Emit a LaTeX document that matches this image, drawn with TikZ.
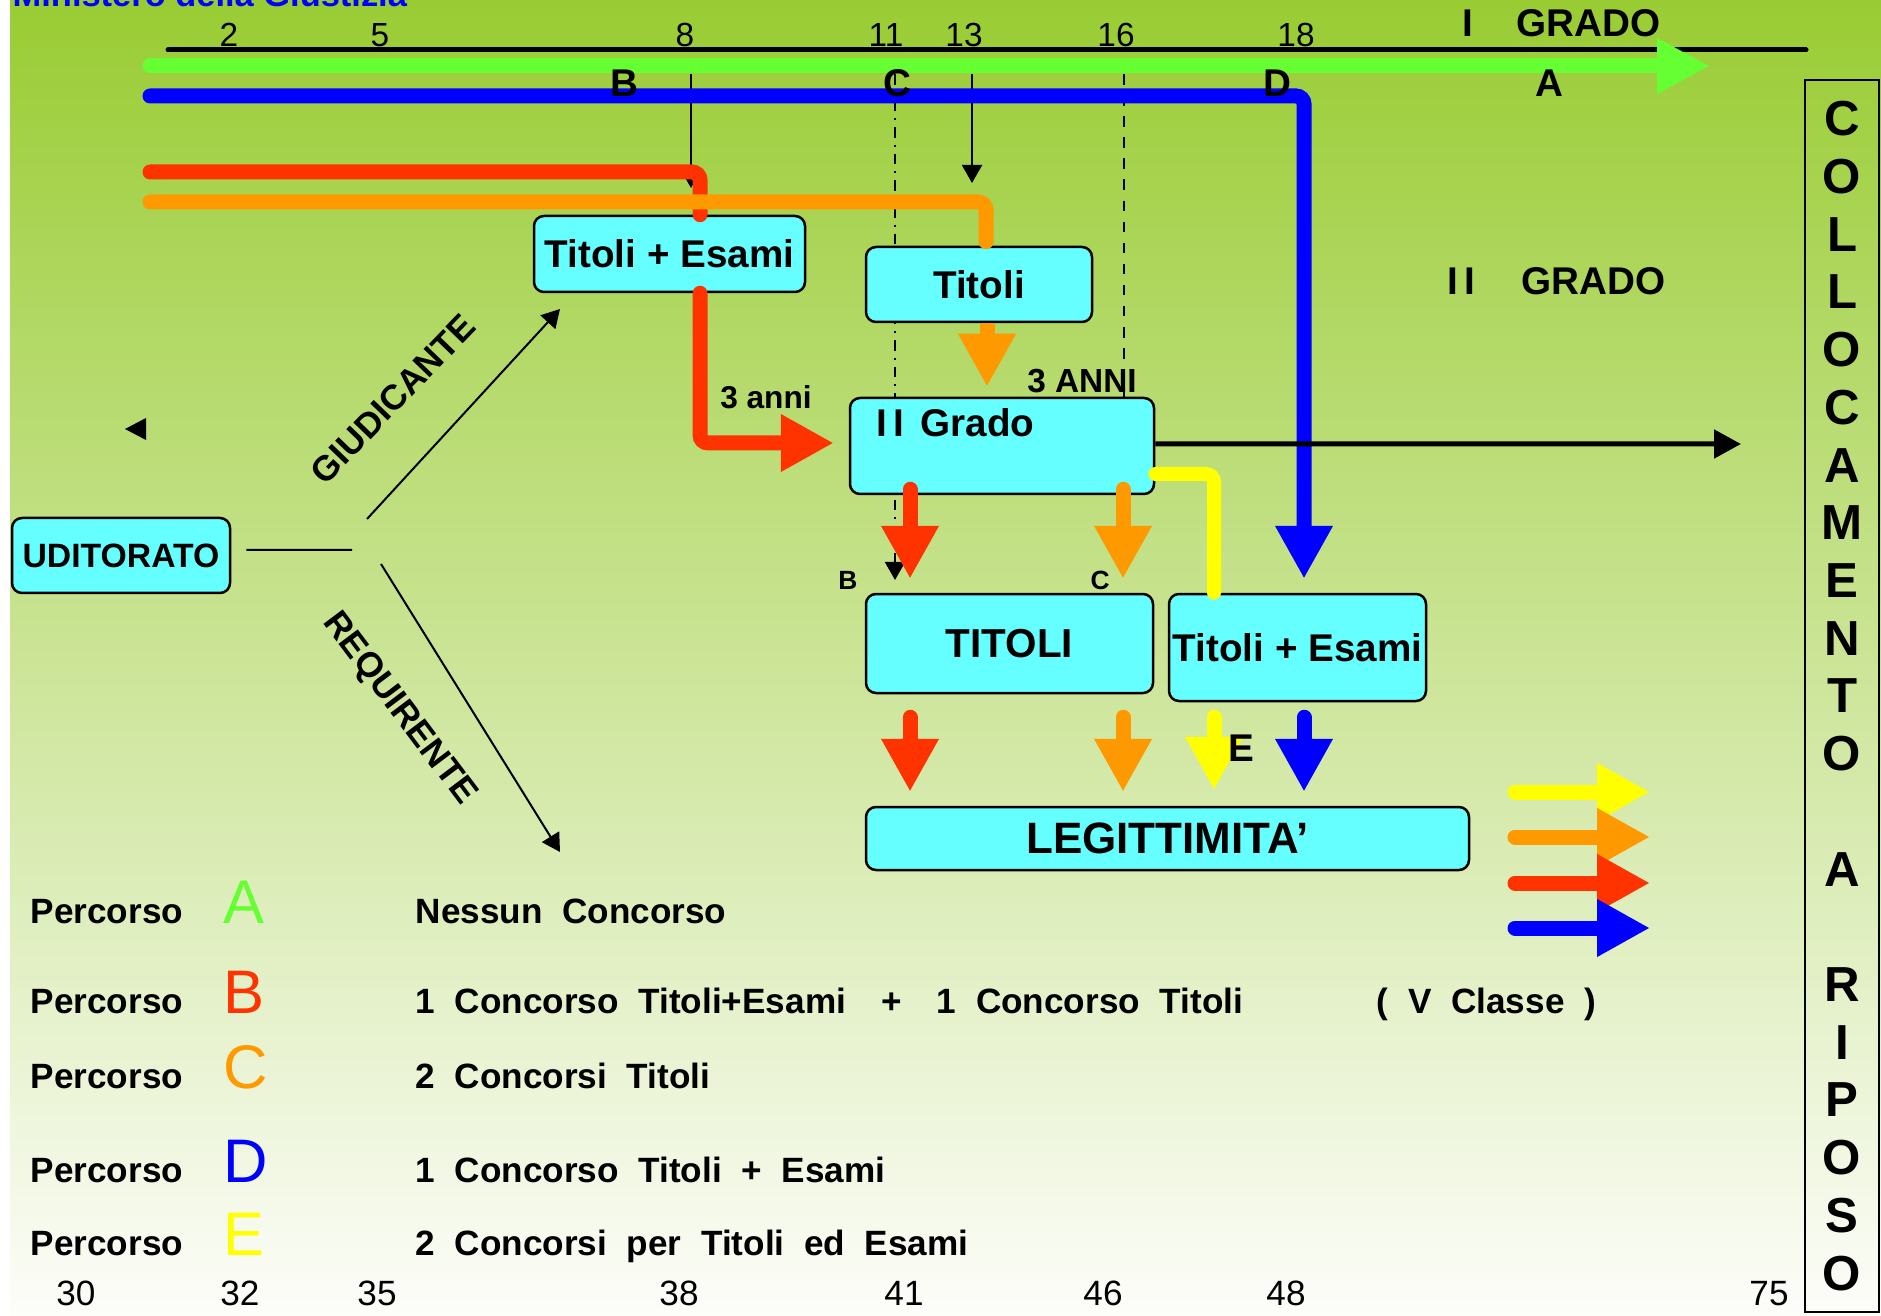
\documentclass[tikz,border=0pt]{standalone}
\usepackage{fontspec}
\setmainfont{Liberation Sans}
\usepackage{tikz}
\usetikzlibrary{arrows.meta, positioning}
\definecolor{bgtop}{RGB}{153,204,51}
\definecolor{bgbot}{RGB}{253,253,250}
\definecolor{pgreen}{RGB}{102,255,51}
\definecolor{pblue}{RGB}{0,0,255}
\definecolor{pred}{RGB}{255,51,0}
\definecolor{porange}{RGB}{255,153,0}
\definecolor{pyellow}{RGB}{255,255,0}
\definecolor{boxcyan}{RGB}{102,255,255}
\tikzstyle{thinarrow} = [-{Triangle[length=1.8mm, width=2mm]}, line width=0.2mm]
\tikzset{
    cbox/.style={draw=black, line width=0.25mm, fill=boxcyan, rounded corners=1mm,
        inner sep=0pt, font=\fontsize{11}{13}\selectfont\bfseries},
    route/.style={line width=1.5mm, line cap=round, rounded corners=0.8mm},
    fatarrow/.style={route, -{Triangle[length=5.3mm, width=5.4mm]}},
    txt/.style={anchor=base, inner sep=0pt},
    btxt/.style={txt, font=\fontsize{#1}{#1}\selectfont\bfseries},
    ntxt/.style={txt, font=\fontsize{#1}{#1}\selectfont},
    legtxt/.style={btxt=10, anchor=base west, execute at begin node={\spaceskip=5.6pt\relax}},
}

\begin{document}
\begin{tikzpicture}[x=0.1mm, y=-0.1mm]
    % slide background
    \useasboundingbox (0,0) rectangle (1881,1316);
    \fill[white] (0,0) rectangle (1881,1316);
    \shade[top color=bgtop, bottom color=bgbot] (10,0) rectangle (1881,1316);
    \begin{scope}
        \clip (0,0) rectangle (1881,1316);
        \node[btxt=9.8, anchor=base west, text=pblue] (ministero) at (12,7) {Ministero della Giustizia};
    \end{scope}

    % years of service axis
    \coordinate (axisL) at (168,50);
    \coordinate (axisR) at (1806,50);
    \draw[line width=0.5mm, line cap=round] (axisL) -- (axisR);
    \node[ntxt=9.5] (y2) at (229,47) {2};
    \node[ntxt=9.5] (y5) at (380,47) {5};
    \node[ntxt=9.5] (y8) at (685,47) {8};
    \node[ntxt=9.5] (y11) at (886,47) {11};
    \node[ntxt=9.5] (y13) at (964,47) {13};
    \node[ntxt=9.5] (y16) at (1116,47) {16};
    \node[ntxt=9.5] (y18) at (1296,47) {18};
    \node[btxt=11, anchor=base west] (grado1) at (1462,37) {I\hspace{4.3mm}GRADO};

    % guides down from the axis
    \coordinate (g8) at (691,74);
    \coordinate (g11) at (895,74);
    \coordinate (g13) at (972,74);
    \coordinate (g16) at (1124,74);
    \draw[thinarrow] (g8) -- ++(0,114);
    \draw[thinarrow] (g13) -- ++(0,109);
    \draw[thinarrow, dashdotted] (g11) -- ++(0,506);
    \draw[line width=0.2mm, dashed] (g16) -- ++(0,324);

    % competition boxes
    \node[cbox, minimum width=27.1mm, minimum height=7.6mm] (teA) at (669.5,254) {Titoli + Esami};
    \node[cbox, minimum width=22.6mm, minimum height=7.5mm] (titA) at (979,284.5) {Titoli};
    \node[cbox, minimum width=30.4mm, minimum height=9.6mm] (grado2) at (1002,446) {};
    \node[btxt=11, anchor=base west] (grado2txt) at (876,437) {I\,I\hspace{1.6mm}Grado};
    \node[cbox, minimum width=28.7mm, minimum height=9.9mm,
        font=\fontsize{11.5}{13}\selectfont\bfseries] (titB) at (1009.5,643.5) {TITOLI};
    \node[cbox, minimum width=25.7mm, minimum height=10.7mm] (teB) at (1297.5,647.5) {Titoli + Esami};
    \node[cbox, minimum width=60.3mm, minimum height=6.3mm,
        font=\fontsize{12.5}{14}\selectfont\bfseries] (legit) at (1167.5,838.5) {LEGITTIMITA'};
    \node[cbox, minimum width=21.8mm, minimum height=7.5mm,
        font=\fontsize{9.6}{11}\selectfont\bfseries] (udit) at (121,555.5) {UDITORATO};

    % A: no competition, D: straight down to titoli + esami
    \coordinate (startA) at (150,66);
    \coordinate (endA) at (1710,66);
    \coordinate (startD) at (150,96);
    \coordinate (colD) at (1304,0);
    \draw[fatarrow, pgreen, -{Triangle[length=5.3mm, width=5.2mm]}] (startA) -- (endA);
    \draw[fatarrow, pblue] (startD) -| ([yshift=1.4mm]colD |- teB.north);
    \node[btxt=11] (lblB) at (624,97) {B};
    \node[btxt=11] (lblC) at (897,97) {C};
    \node[btxt=11] (lblD) at (1277,97) {D};
    \node[btxt=11] (lblA) at (1549,97) {A};

    % B: titoli + esami, then II grado
    \coordinate (startB) at (150,172);
    \coordinate (colB) at (910,0);
    \draw[route, pred] (startB) -| ([xshift=3.05mm]teA.north);
    \draw[fatarrow, pred] ([xshift=3.05mm]teA.south) |- ([xshift=-1.5mm, yshift=0.3mm]grado2.west);

    % C: titoli, then II grado
    \coordinate (startC) at (150,202);
    \coordinate (colC) at (1123,0);
    \draw[route, porange] (startC) -| ([xshift=0.7mm, yshift=0.4mm]titA.north);
    \draw[fatarrow, porange, line cap=butt] ([xshift=0.8mm]titA.south)
        -- ([xshift=0.8mm, yshift=1mm]titA.south |- grado2.north);

    % E: second titoli + esami
    \coordinate (colE) at (1214,0);
    \draw[route, pyellow, line width=1.4mm] ([yshift=-2.8mm]grado2.east) -| (colE |- teB.north);

    % down to the third step
    \draw[fatarrow, pred] ([yshift=0.6mm]colB |- grado2.south) -- ([yshift=1.4mm]colB |- titB.north);
    \draw[fatarrow, porange] ([yshift=0.6mm]colC |- grado2.south) -- ([yshift=1.4mm]colC |- titB.north);
    \draw[fatarrow, pred] ([yshift=-2.3mm]colB |- titB.south) -- ([yshift=1.4mm]colB |- legit.north);
    \draw[fatarrow, porange] ([yshift=-2.3mm]colC |- titB.south) -- ([yshift=1.4mm]colC |- legit.north);
    \draw[fatarrow, pyellow] ([yshift=-1.5mm]colE |- teB.south) -- ([yshift=1.6mm]colE |- legit.north);
    \draw[fatarrow, pblue] ([yshift=-1.5mm]colD |- teB.south) -- ([yshift=1.4mm]colD |- legit.north);

    % II grado carries on
    \coordinate (out2) at (1741,444);
    \draw[line width=0.5mm, -{Triangle[length=2.7mm, width=2.8mm]}] ([yshift=0.2mm]grado2.east) -- (out2);

    % small labels
    \node[btxt=9] (anni3) at (766,409) {3 anni};
    \node[btxt=9.5] (anni3b) at (1082,393) {3 ANNI};
    \node[btxt=11, anchor=base west] (grado2lbl) at (1447,295) {I\,I\hspace{4.6mm}GRADO};
    \node[btxt=7.5] (smallB) at (848,589) {B};
    \node[btxt=7.5] (smallC) at (1100,589) {C};
    \node[btxt=11] (lblE) at (1241,761) {E};

    % uditorato splits in two
    \coordinate (fork) at (352,550);
    \coordinate (giudS) at (367,519);
    \coordinate (giudE) at (560,309);
    \coordinate (requS) at (381,564);
    \coordinate (requE) at (560,852);
    \draw[line width=0.2mm] ([xshift=1.5mm, yshift=0.55mm]udit.east) -- (fork);
    \draw[thinarrow] (giudS) -- (giudE);
    \draw[thinarrow] (requS) -- (requE);
    \node[btxt=10, anchor=center, rotate=46] (giud) at (393,399) {GIUDICANTE};
    \node[btxt=10, anchor=center, rotate=-53] (requ) at (399,709) {REQUIRENTE};
    \fill (125,429) -- (146,418) -- (146,440) -- cycle;

    % legend arrows
    \coordinate (legE) at (1515,792);
    \coordinate (legC) at (1515,837);
    \coordinate (legB) at (1515,883);
    \coordinate (legD) at (1515,928);
    \draw[fatarrow, pyellow] (legE) -- ++(135,0);
    \draw[fatarrow, porange] (legC) -- ++(135,0);
    \draw[fatarrow, pred] (legB) -- ++(135,0);
    \draw[fatarrow, pblue] (legD) -- ++(135,0);

    % legend rows
    \node[legtxt] (percA) at (30,923) {Percorso};
    \node[ntxt=17.5, anchor=base west, text=pgreen] (letA) at (223,923) {A};
    \node[legtxt] (descA) at (415,923) {Nessun Concorso};
    \node[legtxt] (percB) at (30,1013) {Percorso};
    \node[ntxt=17.5, anchor=base west, text=pred] (letB) at (223,1013) {B};
    \node[legtxt] (descB) at (415,1013) {1 Concorso Titoli+Esami\quad+\quad1 Concorso Titoli};
    \node[legtxt] (classe) at (1376,1013) {( V Classe )};
    \node[legtxt] (percC) at (30,1088) {Percorso};
    \node[ntxt=17.5, anchor=base west, text=porange] (letC) at (223,1088) {C};
    \node[legtxt] (descC) at (415,1088) {2 Concorsi Titoli};
    \node[legtxt] (percD) at (30,1182) {Percorso};
    \node[ntxt=17.5, anchor=base west, text=pblue] (letD) at (223,1182) {D};
    \node[legtxt] (descD) at (415,1182) {1 Concorso Titoli + Esami};
    \node[legtxt] (percE) at (30,1255) {Percorso};
    \node[ntxt=17.5, anchor=base west, text=pyellow] (letE) at (223,1255) {E};
    \node[legtxt] (descE) at (415,1255) {2 Concorsi per Titoli ed Esami};

    % age axis
    \node[ntxt=10] (a30) at (76,1305) {30};
    \node[ntxt=10] (a32) at (240,1305) {32};
    \node[ntxt=10] (a35) at (377,1305) {35};
    \node[ntxt=10] (a38) at (679,1305) {38};
    \node[ntxt=10] (a41) at (904,1305) {41};
    \node[ntxt=10] (a46) at (1103,1305) {46};
    \node[ntxt=10] (a48) at (1286,1305) {48};
    \node[ntxt=10] (a75) at (1769,1305) {75};

    % retirement column
    \node[draw, line width=0.25mm, minimum width=7.4mm, minimum height=123.2mm, inner sep=0pt,
        align=center, font=\fontsize{14}{16.42}\selectfont\bfseries] (riposo) at (1842,696)
        {C\\O\\L\\L\\O\\C\\A\\M\\E\\N\\T\\O\\[16.42pt]A\\[16.42pt]R\\I\\P\\O\\S\\O};
\end{tikzpicture}
\end{document}
